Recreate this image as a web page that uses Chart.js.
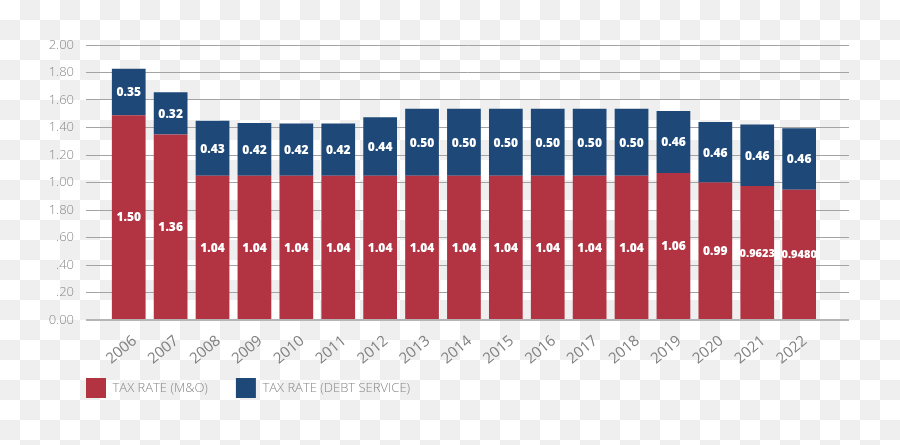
<!DOCTYPE html>
<html>
<head>
<meta charset="utf-8">
<script src="https://cdn.jsdelivr.net/npm/chart.js@4/dist/chart.umd.min.js"></script>
<style>
  html, body { margin: 0; padding: 0; }
  body {
    width: 900px; height: 445px; overflow: hidden;
    background-color: #ffffff;
    background-image: conic-gradient(#efefef 0 25%, #ffffff 0 50%, #efefef 0 75%, #ffffff 0);
    background-size: 40px 40px;
  }
  #wrap { position: relative; width: 900px; height: 445px; }
</style>
</head>
<body>
<div id="wrap"><canvas id="c" width="900" height="445"></canvas></div>
<script>
// ---- data ----
const years = [2006, 2007, 2008, 2009, 2010, 2011, 2012, 2013, 2014, 2015, 2016, 2017, 2018, 2019, 2020, 2021, 2022];
// bar heights as drawn in the picture
const moValues   = [1.49, 1.35, 1.05, 1.05, 1.05, 1.05, 1.05, 1.05, 1.05, 1.05, 1.05, 1.05, 1.05, 1.07, 1.00, 0.975, 0.948];
const debtValues = [0.338, 0.306, 0.40, 0.383, 0.38, 0.38, 0.424, 0.487, 0.487, 0.487, 0.487, 0.487, 0.487, 0.45, 0.44, 0.446, 0.447];
// value labels printed on the bars
const moLabels   = ['1.50', '1.36', '1.04', '1.04', '1.04', '1.04', '1.04', '1.04', '1.04', '1.04', '1.04', '1.04', '1.04', '1.06', '0.99', '0.9623', '0.9480'];
const debtLabels = ['0.35', '0.32', '0.43', '0.42', '0.42', '0.42', '0.44', '0.50', '0.50', '0.50', '0.50', '0.50', '0.50', '0.46', '0.46', '0.46', '0.46'];
// y-axis tick labels, bottom to top, as printed
const yTickLabels = ['0.00', '.20', '.40', '.60', '1.80', '1.00', '1.20', '1.40', '1.60', '1.80', '2.00'];
const seriesNames = ['TAX RATE (M&O)', 'TAX RATE (DEBT SERVICE)'];

const RED = '#b23442';
const BLUE = '#1e4878';

const barLabelPlugin = {
  id: 'barLabels',
  afterDatasetsDraw(chart) {
    const ctx = chart.ctx;
    const labelSets = [moLabels, debtLabels];
    ctx.save();
    ctx.fillStyle = '#ffffff';
    ctx.textAlign = 'center';
    ctx.textBaseline = 'middle';
    chart.data.datasets.forEach((ds, di) => {
      const meta = chart.getDatasetMeta(di);
      meta.data.forEach((el, i) => {
        const t = labelSets[di][i];
        ctx.font = (t.length > 4 ? '800 11px' : '800 12px') + ' "Open Sans"';
        ctx.fillText(t, el.x, (el.y + el.base) / 2 + 1);
      });
    });
    ctx.restore();
  }
};

const legendPlace = {
  id: 'legendPlace',
  afterLayout(chart) {
    const lg = chart.legend;
    const pad = lg.options.labels.padding;
    const h = lg.bottom - lg.top;
    lg.left -= pad; lg.right -= pad;
    lg.top = 350; lg.bottom = 350 + h;
  }
};

new Chart(document.getElementById('c'), {
  type: 'bar',
  data: {
    datasets: [
      { label: seriesNames[0], data: years.map((y, i) => ({ x: y, y: moValues[i] })), backgroundColor: RED, borderWidth: 0 },
      { label: seriesNames[1], data: years.map((y, i) => ({ x: y, y: debtValues[i] })), backgroundColor: BLUE, borderWidth: 0 }
    ]
  },
  options: {
    responsive: false,
    animation: false,
    events: [],
    layout: { padding: { left: 0, right: 51, top: 45, bottom: 7 } },
    datasets: { bar: { categoryPercentage: 1, barPercentage: 0.805 } },
    scales: {
      x: {
        type: 'linear',
        stacked: true,
        offset: false,
        min: 2004.98,
        max: 2023.19,
        grid: { display: false },
        border: { display: false },
        afterBuildTicks(scale) {
          scale.ticks = years.map(v => ({ value: v }));
        },
        afterFit(scale) { scale.height = 60; },
        ticks: {
          autoSkip: false,
          minRotation: 40,
          maxRotation: 40,
          padding: 4,
          labelOffset: 6,
          color: '#808080',
          font: { family: '"Open Sans"', size: 15, weight: '400' },
          callback: (v) => String(v)
        }
      },
      y: {
        stacked: true,
        min: 0,
        max: 2,
        grid: {
          drawTicks: false,
          color: (c) => c.tick && c.tick.value === 0 ? '#b5b5b5' : '#a3a3a3',
          lineWidth: (c) => c.tick && c.tick.value === 0 ? 2 : 1
        },
        border: { display: false },
        afterFit(scale) { scale.width = 86; },
        ticks: {
          stepSize: 0.2,
          padding: 12,
          color: '#888888',
          font: { family: '"Open Sans"', size: 13, weight: '300' },
          callback: (v, i) => yTickLabels[i]
        }
      }
    },
    plugins: {
      legend: {
        position: 'bottom',
        align: 'start',
        fullSize: false,
        labels: {
          boxWidth: 20,
          boxHeight: 20,
          padding: 28,
          color: '#888888',
          font: { family: '"Open Sans"', size: 13, weight: '300' }
        }
      },
      tooltip: { enabled: false }
    }
  },
  plugins: [barLabelPlugin, legendPlace]
});
</script>
</body>
</html>
